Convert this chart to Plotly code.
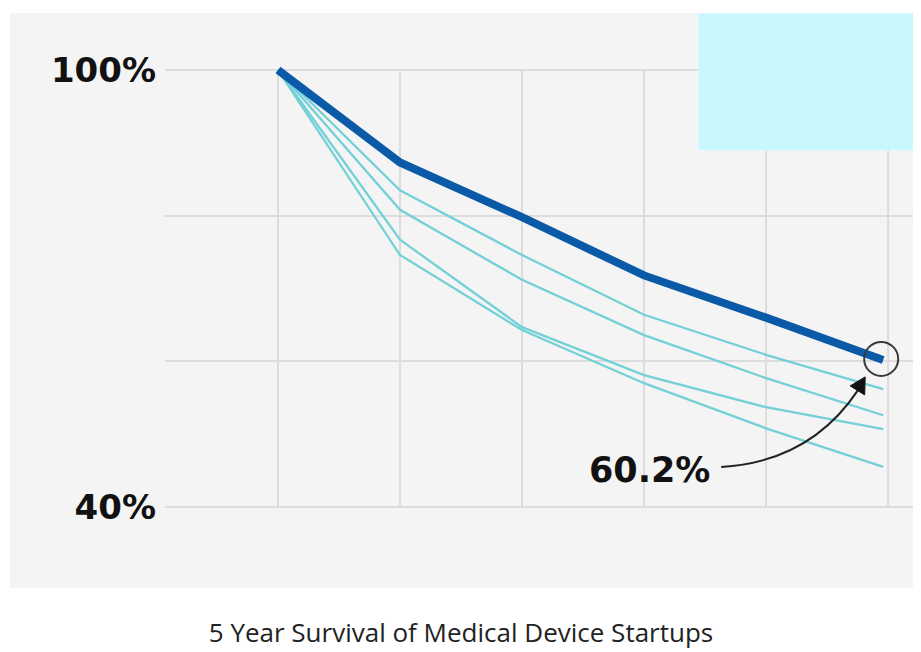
import plotly.graph_objects as go

# ---- data ----
years = [0, 1, 2, 3, 4, 4.96]
medical_device = [100, 87.3, 79.8, 71.8, 66.0, 60.2]
other_a = [100, 83.5, 74.6, 66.4, 60.9, 56.2]
other_b = [100, 80.8, 71.2, 63.6, 57.7, 52.6]
other_c = [100, 76.7, 64.7, 58.1, 53.7, 50.7]
other_d = [100, 74.6, 64.3, 57.0, 50.8, 45.5]

grid_x = [0, 1, 2, 3, 4, 5]
y_ticks = [40, 60, 80, 100]
y_tick_text = ["40%", "", "", "100%"]
callout_text = "60.2%"
title_text = "5 Year Survival of Medical Device Startups"

# page is rendered with an 8px body margin, so the figure is 8px smaller
W, H = 913, 644
ML, MR, MT, MB = 157, 0, 5, 64
X_RANGE = [-0.926, 5.270]
Y_RANGE = [28.88, 107.83]

BG = "#F4F4F4"
GRID = "#DCDCDC"
TEAL = "#74D0D7"
BLUE = "#0A5AA8"
BOX = "#C8F7FE"

fig = go.Figure()

for series in [other_d, other_c, other_b, other_a]:
    fig.add_trace(go.Scatter(x=years, y=series, mode="lines",
                             line=dict(color=TEAL, width=2.3),
                             hoverinfo="skip", showlegend=False))

fig.add_trace(go.Scatter(x=years, y=medical_device, mode="lines",
                         line=dict(color=BLUE, width=8),
                         showlegend=False))

shapes = []
# grey panel (extends left of plot area)
panel_left = (2 - ML) / (W - ML - MR)
shapes.append(dict(type="rect", xref="paper", yref="paper",
                   x0=panel_left, x1=1, y0=0, y1=1,
                   fillcolor=BG, line=dict(width=0), layer="below"))
# vertical grid lines limited to 40..100
for gx in grid_x:
    shapes.append(dict(type="line", xref="x", yref="y",
                       x0=gx, x1=gx, y0=min(y_ticks), y1=max(y_ticks),
                       line=dict(color=GRID, width=2), layer="below"))
# cyan box top-right
shapes.append(dict(type="rect", xref="x", yref="y",
                   x0=3.443, x1=X_RANGE[1], y0=89.0, y1=Y_RANGE[1],
                   fillcolor=BOX, line=dict(color="#E6FBFF", width=1),
                   layer="above"))

end_x, end_y = years[-1], medical_device[-1]
# circle around final point
shapes.append(dict(type="circle", xref="x", yref="y",
                   xsizemode="pixel", ysizemode="pixel",
                   xanchor=end_x, yanchor=end_y,
                   x0=-19, x1=15, y0=-16, y1=18,
                   line=dict(color="#3A3A3A", width=2)))
# curved arrow
shapes.append(dict(type="path", xref="x", yref="y",
                   xsizemode="pixel", ysizemode="pixel",
                   xanchor=end_x, yanchor=end_y,
                   path="M -162 -107 Q -73 -102 -25 -30",
                   line=dict(color="#222222", width=2)))
shapes.append(dict(type="path", xref="x", yref="y",
                   xsizemode="pixel", ysizemode="pixel",
                   xanchor=end_x, yanchor=end_y,
                   path="M -18 -17 L -18.5 -35 L -33 -26 Z",
                   fillcolor="#111111", line=dict(color="#111111", width=1)))

annotations = [
    dict(x=end_x, y=end_y, xref="x", yref="y", text=callout_text,
         showarrow=False, xshift=-234, yshift=-110,
         font=dict(family="DejaVu Sans", size=35, color="#111111", weight="bold")),
]

fig.update_layout(
    width=W, height=H,
    margin=dict(l=ML, r=MR, t=MT, b=MB, pad=0),
    paper_bgcolor="white",
    plot_bgcolor=BG,
    shapes=shapes,
    annotations=annotations,
    title=dict(text=title_text, x=453 / W, xref="container", xanchor="center",
               y=1 - 625 / H, yref="container", yanchor="middle",
               font=dict(family="Open Sans", size=26, color="#222222")),
    xaxis=dict(range=X_RANGE, showgrid=False, zeroline=False,
               showticklabels=False, showline=False, fixedrange=True),
    yaxis=dict(range=Y_RANGE, tickvals=y_ticks, ticktext=y_tick_text,
               showgrid=True, gridcolor=GRID, gridwidth=2, zeroline=False,
               showline=False, ticks="", ticklabelstandoff=8,
               tickfont=dict(family="DejaVu Sans", size=34, color="#111111",
                             weight="bold")),
)

fig.write_html("out.html")
